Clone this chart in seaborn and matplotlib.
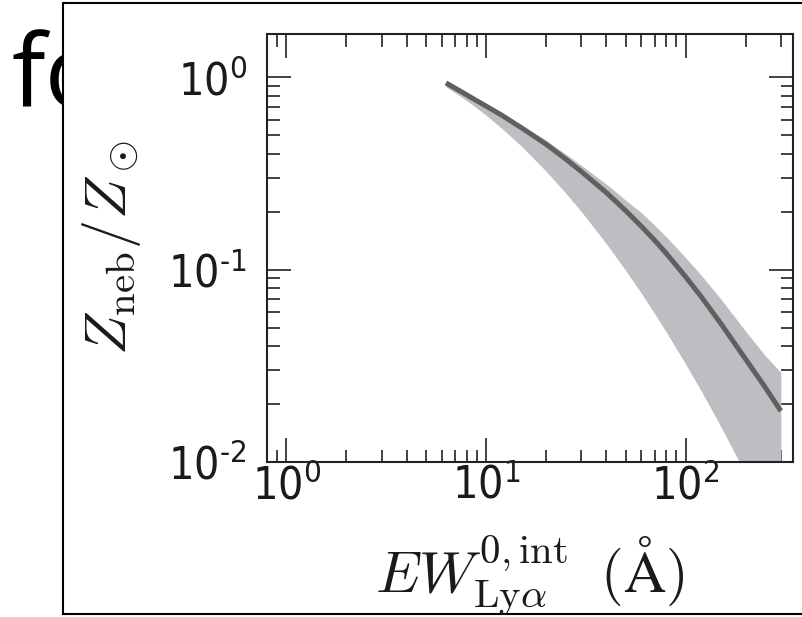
import numpy as np
import matplotlib
matplotlib.use("Agg")
import matplotlib.pyplot as plt
import seaborn as sns
from matplotlib.patches import Rectangle
from matplotlib.ticker import FixedLocator, FixedFormatter, LogLocator, NullFormatter

# ---- data ----
ew = [6.3, 7, 8, 9, 10, 12, 15, 20, 25, 30, 40, 50, 60, 70, 80, 100, 120, 150, 200, 250, 300]
z_model = [0.935, 0.879, 0.811, 0.755, 0.709, 0.635, 0.548, 0.449, 0.377, 0.324, 0.252,
           0.203, 0.168, 0.142, 0.1215, 0.0918, 0.0721, 0.0525, 0.0342, 0.0245, 0.0184]
z_upper = [0.935, 0.883, 0.818, 0.764, 0.719, 0.650, 0.566, 0.471, 0.400, 0.349, 0.279,
           0.230, 0.198, 0.170, 0.148, 0.1156, 0.0933, 0.0704, 0.0478, 0.0358, 0.0292]
z_lower = [0.893, 0.832, 0.757, 0.692, 0.636, 0.543, 0.440, 0.325, 0.251, 0.2007, 0.1369,
           0.0993, 0.0754, 0.0590, 0.0474, 0.0323, 0.0233, 0.0153, 0.00865, 0.00542, 0.00364]

x_ticks = [1, 10, 100]
x_ticklabels = [r"$\mathdefault{10^{0}}$", r"$\mathdefault{10^{1}}$", r"$\mathdefault{10^{2}}$"]
y_ticks = [0.01, 0.1, 1]
y_ticklabels = [r"$\mathdefault{10^{‐2}}$", r"$\mathdefault{10^{‐1}}$", r"$\mathdefault{10^{0}}$"]

x_label = r"$EW^{0,\rm int}_{\rm Ly\alpha}\;\;(\rm\AA)$"
y_label = r"$Z_{\rm neb}/Z_\odot$"
bg_text = "fo"

sns.set_style("white")
plt.rcParams["font.family"] = ["DejaVu Sans"]
plt.rcParams["font.stretch"] = "condensed"
plt.rcParams["mathtext.fontset"] = "dejavusans"

W, H = 803, 617
fig = plt.figure(figsize=(W / 100, H / 100), dpi=100)

# background slide text partially hidden by the figure frame
fig.text(12 / W, 1 - 107 / H, bg_text, fontsize=72, family=["Open Sans", "DejaVu Sans"],
         fontstretch="normal", color="black", ha="left", va="baseline", zorder=-5)
frame = Rectangle((63 / W, 3 / H), 1.0, 611 / H, transform=fig.transFigure,
                  facecolor="white", edgecolor="black", lw=1.5, zorder=-4)
fig.add_artist(frame)

ax = fig.add_axes([267 / W, 155 / H, 526 / W, 428 / H])
ax.set_facecolor("white")
ax.set_xscale("log")
ax.set_yscale("log")

ax.fill_between(ew, z_lower, z_upper, color="#bdbec2", lw=0, zorder=1)
sns.lineplot(x=ew, y=z_model, ax=ax, color="#606060", lw=3.6, zorder=2,
             solid_capstyle="butt")

ax.set_xlim(0.8, 345)
ax.set_ylim(0.01, 1.68)

ax.xaxis.set_major_locator(FixedLocator(x_ticks))
ax.xaxis.set_major_formatter(FixedFormatter(x_ticklabels))
ax.yaxis.set_major_locator(FixedLocator(y_ticks))
ax.yaxis.set_major_formatter(FixedFormatter(y_ticklabels))
for axis in (ax.xaxis, ax.yaxis):
    axis.set_minor_locator(LogLocator(base=10, subs=np.arange(2, 10) * 1.0, numticks=20))
    axis.set_minor_formatter(NullFormatter())

ax.tick_params(which="both", direction="in", top=True, right=True, bottom=True, left=True,
               color="#333333", labelcolor="#1a1a1a", labelsize=32)
ax.tick_params(which="major", length=17, width=1.3)
ax.tick_params(which="minor", length=9, width=1.3)
ax.tick_params(axis="x", which="major", pad=1.5)
ax.tick_params(axis="y", which="major", pad=14.5)

for sp in ax.spines.values():
    sp.set_color("#222222")
    sp.set_linewidth(1.5)

ax.set_xlabel(x_label, fontsize=42, math_fontfamily="cm", color="#1a1a1a")
ax.set_ylabel(y_label, fontsize=42, math_fontfamily="cm", color="#1a1a1a")
ax.xaxis.set_label_coords(0.5, -0.168)
ax.yaxis.set_label_coords(-0.236, 0.5)

fig.savefig("out.png", dpi=100)
